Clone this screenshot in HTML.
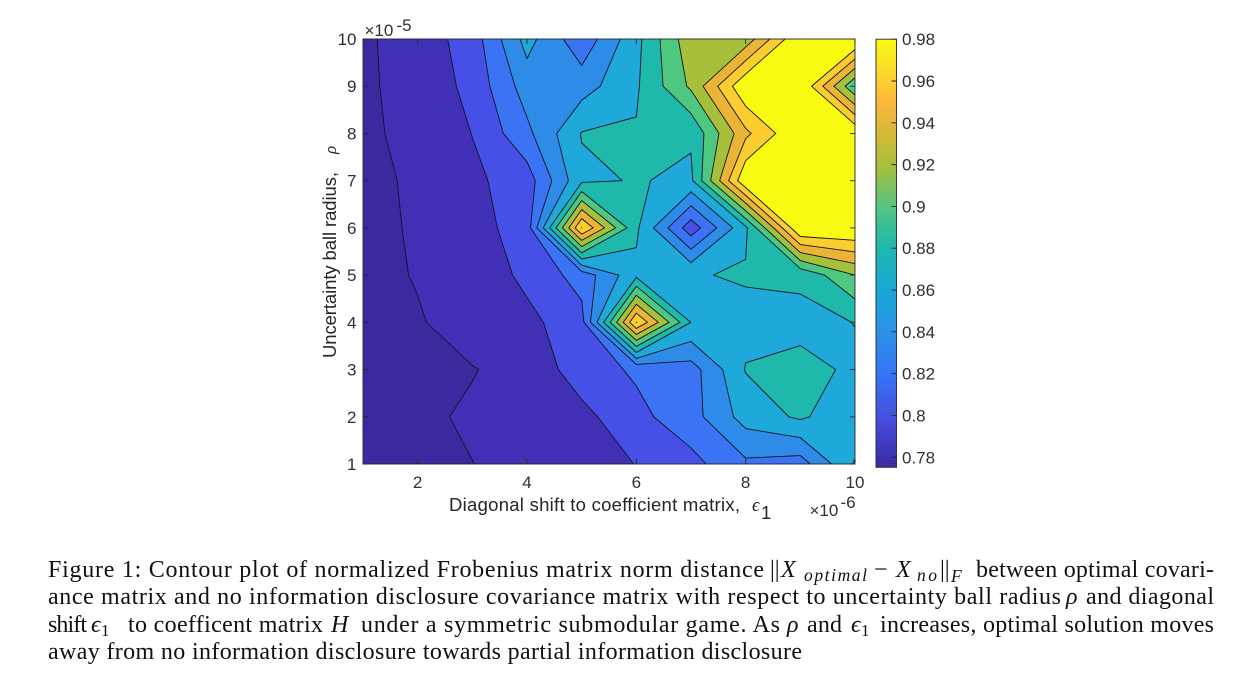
<!DOCTYPE html>
<html lang="en">
<head>
<meta charset="utf-8">
<title>Contour plot figure</title>
<style>
html,body{margin:0;padding:0;background:#fff;}
svg{display:block;}
.tick{font-family:"Liberation Sans",sans-serif;font-size:17px;fill:#303030;}
.axt{font-family:"Liberation Sans",sans-serif;font-size:18.5px;fill:#262626;}
.cap{font-family:"Liberation Serif",serif;font-size:24px;fill:#111;}
.capi{font-family:"Liberation Serif",serif;font-size:24px;font-style:italic;fill:#111;}
.caps{font-family:"Liberation Serif",serif;font-size:17px;fill:#111;}
.capsi{font-family:"Liberation Serif",serif;font-size:17.5px;font-style:italic;fill:#111;}
</style>
</head>
<body>
<svg id="fig" width="1250" height="678" viewBox="0 0 1250 678" xmlns="http://www.w3.org/2000/svg">
  <defs>
    <linearGradient id="ramp" x1="0" y1="0" x2="0" y2="1">
      <stop offset="0" stop-color="#f9fb15"/>
      <stop offset="0.098" stop-color="#fbd030"/>
      <stop offset="0.147" stop-color="#ffb83c"/>
      <stop offset="0.196" stop-color="#e3b838"/>
      <stop offset="0.294" stop-color="#a9bf3a"/>
      <stop offset="0.392" stop-color="#55c480"/>
      <stop offset="0.489" stop-color="#1cb9ae"/>
      <stop offset="0.587" stop-color="#18a8d8"/>
      <stop offset="0.685" stop-color="#2b90e8"/>
      <stop offset="0.783" stop-color="#3575f5"/>
      <stop offset="0.881" stop-color="#4650e0"/>
      <stop offset="0.978" stop-color="#3b30b0"/>
      <stop offset="1" stop-color="#3c2a9c"/>
    </linearGradient>
  </defs>
  <rect width="1250" height="678" fill="#fff"/>
  <g id="plot"></g>
  <g id="axes"></g>
  <g id="cbar"></g>

  <g>
    <text class="tick" x="809.5" y="516">×10</text>
    <text class="tick" x="840.5" y="508">-6</text>
  </g>
  <g>
    <text class="tick" x="364.5" y="36">×10</text>
    <text class="tick" x="396.5" y="31">-5</text>
  </g>

  <g>
    <text class="axt" x="449" y="511" textLength="291" lengthAdjust="spacing">Diagonal shift to coefficient matrix,</text>
    <text x="752" y="511" style="font-family:'Liberation Serif',serif;font-style:italic;font-size:18.5px;fill:#262626">ϵ</text>
    <text class="axt" x="761" y="519">1</text>
  </g>
  <g transform="translate(336,358) rotate(-90)">
    <text class="axt" x="0" y="0" textLength="186" lengthAdjust="spacing">Uncertainty ball radius,</text>
    <text x="204" y="0" style="font-family:'Liberation Serif',serif;font-style:italic;font-size:17px;fill:#262626">ρ</text>
  </g>

  <g>
    <text class="cap" x="48" y="577" textLength="716" lengthAdjust="spacing">Figure 1: Contour plot of normalized Frobenius matrix norm distance</text>
    <text class="cap" x="770" y="577">||</text>
    <text class="capi" x="781" y="577">X</text>
    <text class="capsi" x="804" y="581" textLength="63" lengthAdjust="spacing">optimal</text>
    <text class="cap" x="874" y="577">−</text>
    <text class="capi" x="896" y="577">X</text>
    <text class="capsi" x="917" y="581" textLength="20" lengthAdjust="spacing">no</text>
    <text class="cap" x="940" y="577">||</text>
    <text class="capsi" x="951" y="582">F</text>
    <text class="cap" x="976" y="577" textLength="238" lengthAdjust="spacing">between optimal covari-</text>

    <text class="cap" x="48" y="604" textLength="1013" lengthAdjust="spacing">ance matrix and no information disclosure covariance matrix with respect to uncertainty ball radius</text>
    <text class="capi" x="1066" y="604">ρ</text>
    <text class="cap" x="1086" y="604" textLength="128" lengthAdjust="spacing">and diagonal</text>

    <text class="cap" x="48" y="632" textLength="39" lengthAdjust="spacing">shift</text>
    <text class="capi" x="91" y="632">ϵ</text>
    <text class="caps" x="101" y="636">1</text>
    <text class="cap" x="128" y="632" textLength="195" lengthAdjust="spacing">to coefficent matrix</text>
    <text class="capi" x="331" y="632">H</text>
    <text class="cap" x="361" y="632" textLength="419" lengthAdjust="spacing">under a symmetric submodular game. As</text>
    <text class="capi" x="787" y="632">ρ</text>
    <text class="cap" x="807" y="632" textLength="35" lengthAdjust="spacing">and</text>
    <text class="capi" x="851" y="632">ϵ</text>
    <text class="caps" x="861" y="636">1</text>
    <text class="cap" x="880" y="632" textLength="334" lengthAdjust="spacing">increases, optimal solution moves</text>

    <text class="cap" x="48" y="659" textLength="754" lengthAdjust="spacing">away from no information disclosure towards partial information disclosure</text>
  </g>
</svg>

<script>
const xValues = [1, 2, 3, 4, 5, 6, 7, 8, 9, 10];
const yValues = [10, 9, 8, 7, 6, 5, 4, 3, 2, 1];
const zRow10 = [.777, .7886, .8094, .8674, .826, .874, .934, .928, 1.0, 1.002];
const zRow9 = [.7776, .7854, .806, .8496, .851, .8774, .9236, .998, 1.0, .902];
const zRow8 = [.778, .783, .8004, .835, .881, .8814, .8828, .9554, 1.0, .998];
const zRow7 = [.776, .7824, .796, .81, .876, .8814, .876, .998, 1.0, 1.0];
const zRow6 = [.775, .782, .7924, .809, .9804, .8836, .808, .876, 1.0014, 1.0014];
const zRow5 = [.774, .7812, .786, .805, .828, .875, .8786, .882, .884, .92];
const zRow4 = [.772, .7784, .7884, .7944, .813, .9804, .8796, .874, .874, .8804];
const zRow3 = [.771, .776, .7792, .786, .8104, .823, .831, .881, .8862, .8766];
const zRow2 = [.77, .7766, .7824, .788, .794, .8144, .832, .868, .8832, .8644];
const zRow1 = [.77, .774, .7798, .786, .792, .8004, .8138, .836, .8306, .882];
const zRows = [zRow10, zRow9, zRow8, zRow7, zRow6, zRow5, zRow4, zRow3, zRow2, zRow1];
const levels = [.78, .80, .82, .84, .86, .88, .90, .92, .94, .96, .98];
const xTicks = [2, 4, 6, 8, 10];
const yTicks = [1, 2, 3, 4, 5, 6, 7, 8, 9, 10];
const colorbarTicks = [0.78, 0.8, 0.82, 0.84, 0.86, 0.88, 0.9, 0.92, 0.94, 0.96, 0.98];

const NS = 'http://www.w3.org/2000/svg';
const PX0 = 363, PX1 = 855, PY0 = 39, PY1 = 464;
const CX0 = 876, CX1 = 896.5, CY0 = 39.2, CY1 = 467.3;
const belowColor = '#3b2a9f';
const bandColors = ['#3f30b6', '#4650e6', '#3a74f4', '#2e8ce8', '#1fa8da', '#1fb9ac', '#4ec87e', '#a6c03c', '#ebb436', '#fbcd2e', '#f8fa12'];

function xScale(v) { return PX0 + (v - 1) * (PX1 - PX0) / 9; }
function yScale(v) { return PY1 - (v - 1) * (PY1 - PY0) / 9; }
function cbarScale(v) { return CY0 + (0.98 - v) * (CY1 - CY0) / (0.98 - 0.7752); }
function svgEl(tag, attrs, parent) {
  const el = document.createElementNS(NS, tag);
  for (const k in attrs) el.setAttribute(k, attrs[k]);
  parent.appendChild(el);
  return el;
}
function fmt(p) { return p[0].toFixed(2) + ' ' + p[1].toFixed(2); }

const plot = document.getElementById('plot');
const axes = document.getElementById('axes');
const cbar = document.getElementById('cbar');

const baseRect = svgEl('rect', { x: PX0, y: PY0, width: PX1 - PX0, height: PY1 - PY0, fill: belowColor }, plot);



function cellGeometry(L, cs) {
  const hi = cs.map(c => c.z >= L);
  const cross = [];
  for (let e = 0; e < 4; e++) {
    const p = cs[e], q = cs[(e + 1) % 4];
    if (hi[e] !== hi[(e + 1) % 4]) {
      const t = (L - p.z) / (q.z - p.z);
      cross[e] = [p.px + (q.px - p.px) * t, p.py + (q.py - p.py) * t];
    } else cross[e] = null;
  }
  const polys = [], segs = [];
  const n = hi.filter(Boolean).length;
  const saddle = n === 2 && hi[0] === hi[2];
  if (saddle) {
    const center = (cs[0].z + cs[1].z + cs[2].z + cs[3].z) / 4;
    const connected = center >= L;
    const around = i => [cross[(i + 3) % 4], cross[i]];
    if (connected) {
      const pts = [];
      for (let e = 0; e < 4; e++) {
        if (hi[e]) pts.push([cs[e].px, cs[e].py]);
        if (cross[e]) pts.push(cross[e]);
      }
      polys.push(pts);
      for (let i = 0; i < 4; i++) if (!hi[i]) segs.push(around(i));
    } else {
      for (let i = 0; i < 4; i++) if (hi[i]) {
        const a = around(i);
        polys.push([a[0], [cs[i].px, cs[i].py], a[1]]);
        segs.push(a);
      }
    }
  } else if (n > 0) {
    const pts = [];
    for (let e = 0; e < 4; e++) {
      if (hi[e]) pts.push([cs[e].px, cs[e].py]);
      if (cross[e]) pts.push(cross[e]);
    }
    polys.push(pts);
    const c = cross.filter(Boolean);
    if (c.length === 2) segs.push(c);
  }
  return { polys, segs };
}

let linePath = '';
levels.forEach((L, k) => {
  let fillPath = '';
  for (let r = 0; r < yValues.length - 1; r++) {
    for (let c = 0; c < xValues.length - 1; c++) {
      const corner = (rr, cc) => ({ z: zRows[rr][cc], px: xScale(xValues[cc]), py: yScale(yValues[rr]) });
      const cs = [corner(r, c), corner(r, c + 1), corner(r + 1, c + 1), corner(r + 1, c)];
      const g = cellGeometry(L, cs);
      g.polys.forEach(p => { fillPath += 'M' + p.map(fmt).join('L') + 'Z'; });
      g.segs.forEach(s => { linePath += 'M' + fmt(s[0]) + 'L' + fmt(s[1]); });
    }
  }
  const band = svgEl('path', { d: fillPath, fill: bandColors[k] }, plot);
  
  
});
const lines = svgEl('path', { d: linePath, fill: 'none', stroke: '#14141e', 'stroke-width': 0.9, 'stroke-linecap': 'round' }, plot);



const frame = svgEl('rect', { x: PX0, y: PY0, width: PX1 - PX0, height: PY1 - PY0, fill: 'none', stroke: '#262626', 'stroke-width': 0.9 }, axes);



let tickPath = '';
xTicks.forEach(v => {
  const x = xScale(v);
  tickPath += 'M' + x + ' ' + PY1 + 'V' + (PY1 - 5) + 'M' + x + ' ' + PY0 + 'V' + (PY0 + 5);
  const t = svgEl('text', { class: 'tick', x: x, y: 488, 'text-anchor': 'middle' }, axes);
  t.textContent = String(v);
  
  
});
yTicks.forEach(v => {
  const y = yScale(v);
  tickPath += 'M' + PX0 + ' ' + y + 'H' + (PX0 + 5) + 'M' + PX1 + ' ' + y + 'H' + (PX1 - 5);
  const t = svgEl('text', { class: 'tick', x: 356.5, y: y + 6, 'text-anchor': 'end' }, axes);
  t.textContent = String(v);
  
  
});
const ticks = svgEl('path', { d: tickPath, fill: 'none', stroke: '#262626', 'stroke-width': 0.9 }, axes);



const cbarRect = svgEl('rect', { x: CX0, y: CY0, width: CX1 - CX0, height: CY1 - CY0, fill: 'url(#ramp)', stroke: '#262626', 'stroke-width': 0.9 }, cbar);


let cbarTickPath = '';
colorbarTicks.forEach(v => {
  const y = cbarScale(v);
  cbarTickPath += 'M' + CX1 + ' ' + y + 'H' + (CX1 - 5);
  const t = svgEl('text', { class: 'tick', x: 902, y: y + 6 }, cbar);
  t.textContent = String(v);
  
  
});
const cbarTickMarks = svgEl('path', { d: cbarTickPath, fill: 'none', stroke: '#262626', 'stroke-width': 0.9 }, cbar);


</script>
</body>
</html>
